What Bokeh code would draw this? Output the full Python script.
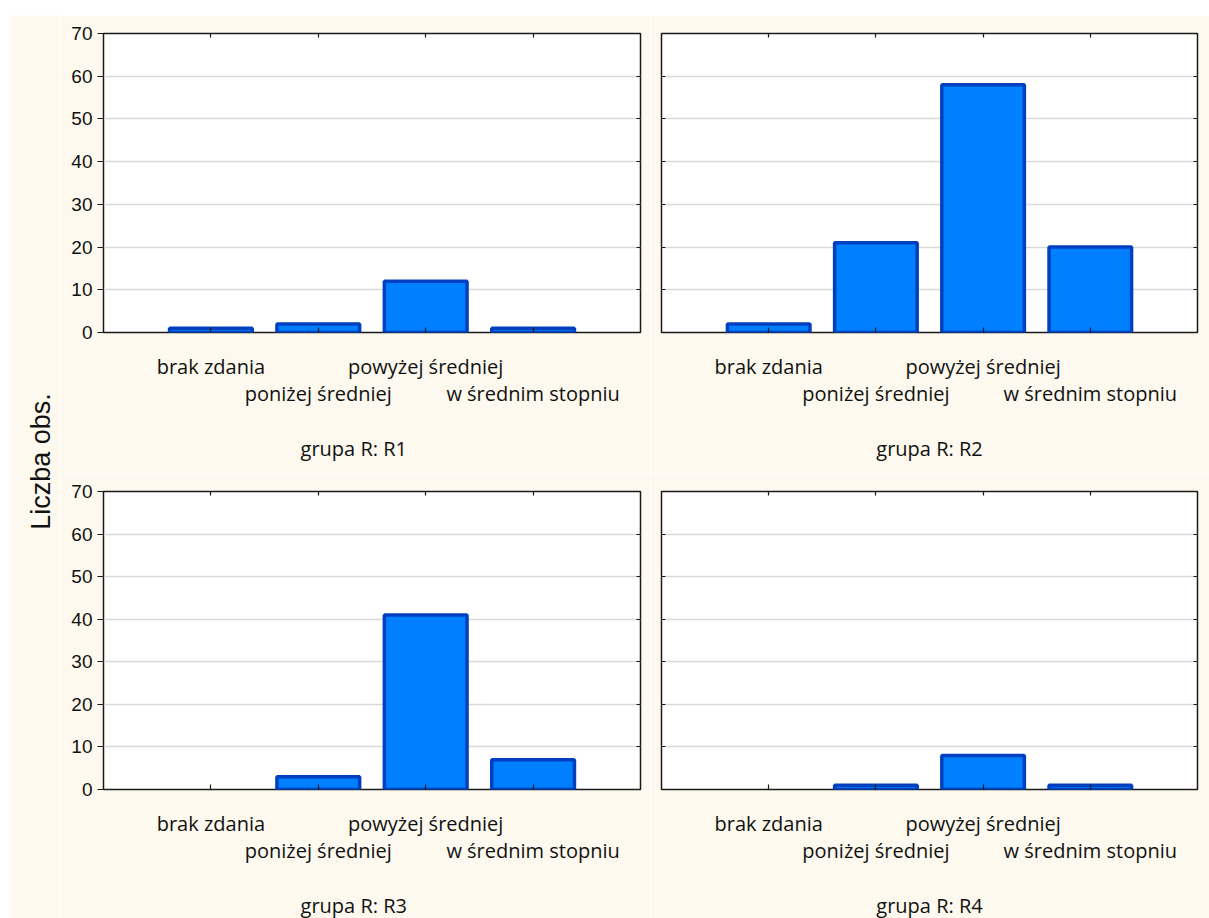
import math
from bokeh.plotting import figure
from bokeh.models import (LinearAxis, FixedTicker, Range1d, ColumnDataSource, Grid,
                          Spacer, CustomLabelingPolicy)
from bokeh.layouts import row, column
from bokeh.embed import file_html
from bokeh.resources import INLINE
from bokeh.core.properties import value

# ---------------- data ----------------
categories = ["brak zdania", "poniżej średniej", "powyżej średniej", "w średnim stopniu"]
groups = ["R1", "R2", "R3", "R4"]
r1_counts = [1, 2, 12, 1]
r2_counts = [2, 21, 58, 20]
r3_counts = [0, 3, 41, 7]
r4_counts = [0, 1, 8, 1]
y_ticks = [0, 10, 20, 30, 40, 50, 60, 70]
y_label = "Liczba obs."
title_prefix = "grupa R: "

# ---------------- style ----------------
CREAM = "#FDF9EE"
FILL = "#0080FF"
EDGE = "#0040C0"
FRAME = "#1a1a1a"
TXT = "#111111"
CAT_FONT = "Open Sans"
NUM_FONT = "Liberation Sans"

HIDE_ALL = "const all = [...indices]; for (const i of all) { indices.unset(i) } return indices"
HIDE_ODD = "const all = [...indices]; for (const i of all) { if (i % 2 == 1) indices.unset(i) } return indices"


def make_panel(counts, name, col, rw):
    n = len(categories)
    pos = list(range(1, n + 1))
    p = figure(
        frame_width=537 if col == 0 else 536,
        frame_height=299 if rw == 0 else 298,
        min_border_left=43 if col == 0 else 11,
        min_border_right=10 if col == 0 else 12,
        min_border_top=18,
        min_border_bottom=141 if rw == 0 else 129,
        x_range=Range1d(0, n + 1), y_range=Range1d(0, y_ticks[-1]),
        x_axis_location=None, y_axis_location=None,
        toolbar_location=None, output_backend="svg",
        background_fill_color="white", border_fill_color=CREAM,
        outline_line_color=FRAME, outline_line_width=1.5,
    )
    p.grid.visible = False
    p.add_layout(Grid(dimension=1, ticker=FixedTicker(ticks=y_ticks),
                      grid_line_color="#D9D9D9", grid_line_width=1.5))

    xs = [x for x, v in zip(pos, counts) if v > 0]
    vs = [v for v in counts if v > 0]
    src = ColumnDataSource(dict(x=xs, top=vs))
    p.vbar(x="x", top="top", bottom=0, width=0.77, source=src,
           fill_color=FILL, line_color=EDGE, line_width=3.5)

    common = dict(axis_line_color=None, minor_tick_line_color=None,
                  major_tick_line_color=FRAME, major_tick_line_width=1.2)
    hidden = dict(major_label_standoff=0, major_label_text_font_size="0px",
                  major_label_policy=CustomLabelingPolicy(code=HIDE_ALL))
    # left axis
    if col == 0:
        yl = LinearAxis(ticker=FixedTicker(ticks=y_ticks), major_tick_in=0, major_tick_out=6,
                        major_label_standoff=5, major_label_text_font=NUM_FONT,
                        major_label_text_font_size="19px", major_label_text_color=TXT, **common)
    else:
        yl = LinearAxis(ticker=FixedTicker(ticks=y_ticks), major_tick_in=4, major_tick_out=0,
                        **hidden, **common)
    p.add_layout(yl, "left")
    # right axis
    p.add_layout(LinearAxis(ticker=FixedTicker(ticks=y_ticks), major_tick_in=4, major_tick_out=0,
                            **hidden, **common), "right")
    # top axis
    p.add_layout(LinearAxis(ticker=FixedTicker(ticks=pos), major_tick_in=4, major_tick_out=0,
                            **hidden, **common), "above")
    # bottom axes: staggered category labels
    odd = {x: (c if i % 2 == 0 else "") for i, (x, c) in enumerate(zip(pos, categories))}
    even_pos = [x for i, x in enumerate(pos) if i % 2 == 1]
    even = {x: categories[x - 1] for x in even_pos}
    cat_style = dict(major_label_text_font=CAT_FONT, major_label_text_font_size="20px",
                     major_label_text_color=TXT)
    ax_a = LinearAxis(ticker=FixedTicker(ticks=pos), major_tick_in=5, major_tick_out=0,
                      major_label_standoff=20, major_label_overrides=odd,
                      major_label_policy=CustomLabelingPolicy(code=HIDE_ODD),
                      **cat_style, **common)
    ax_b = LinearAxis(ticker=FixedTicker(ticks=even_pos), major_tick_in=0, major_tick_out=0,
                      major_label_standoff=-3, major_label_overrides=even,
                      axis_line_color=None, major_tick_line_color=None, minor_tick_line_color=None,
                      **cat_style)
    title_x = 2.33 if col == 0 else (n + 1) / 2
    ax_c = LinearAxis(ticker=FixedTicker(ticks=[title_x]), major_tick_in=0, major_tick_out=0,
                      major_label_standoff=25,
                      major_label_overrides={title_x: title_prefix + name},
                      axis_line_color=None, major_tick_line_color=None, minor_tick_line_color=None,
                      **cat_style)
    p.add_layout(ax_a, "below")
    p.add_layout(ax_b, "below")
    p.add_layout(ax_c, "below")
    return p


f1 = make_panel(r1_counts, groups[0], 0, 0)
f2 = make_panel(r2_counts, groups[1], 1, 0)
f3 = make_panel(r3_counts, groups[2], 0, 1)
f4 = make_panel(r4_counts, groups[3], 1, 1)

LW, LH = 50, 903
lab = figure(width=LW, height=LH, x_range=Range1d(0, LW), y_range=Range1d(0, LH),
             min_border=0, x_axis_location=None, y_axis_location=None,
             toolbar_location=None, output_backend="svg",
             border_fill_color=CREAM, background_fill_color=CREAM, outline_line_color=None)
lab.grid.visible = False
lab.text(x=[30], y=[LH - 446], text=[y_label], angle=math.pi / 2,
         text_align="center", text_baseline="middle",
         text_font=value(NUM_FONT), text_font_size="27px", text_color=TXT)

content = row(lab, column(row(f1, f2), row(f3, f4)))
layout = column(Spacer(height=15), row(Spacer(width=10), content))

open("out.html", "w").write(file_html(layout, INLINE))
